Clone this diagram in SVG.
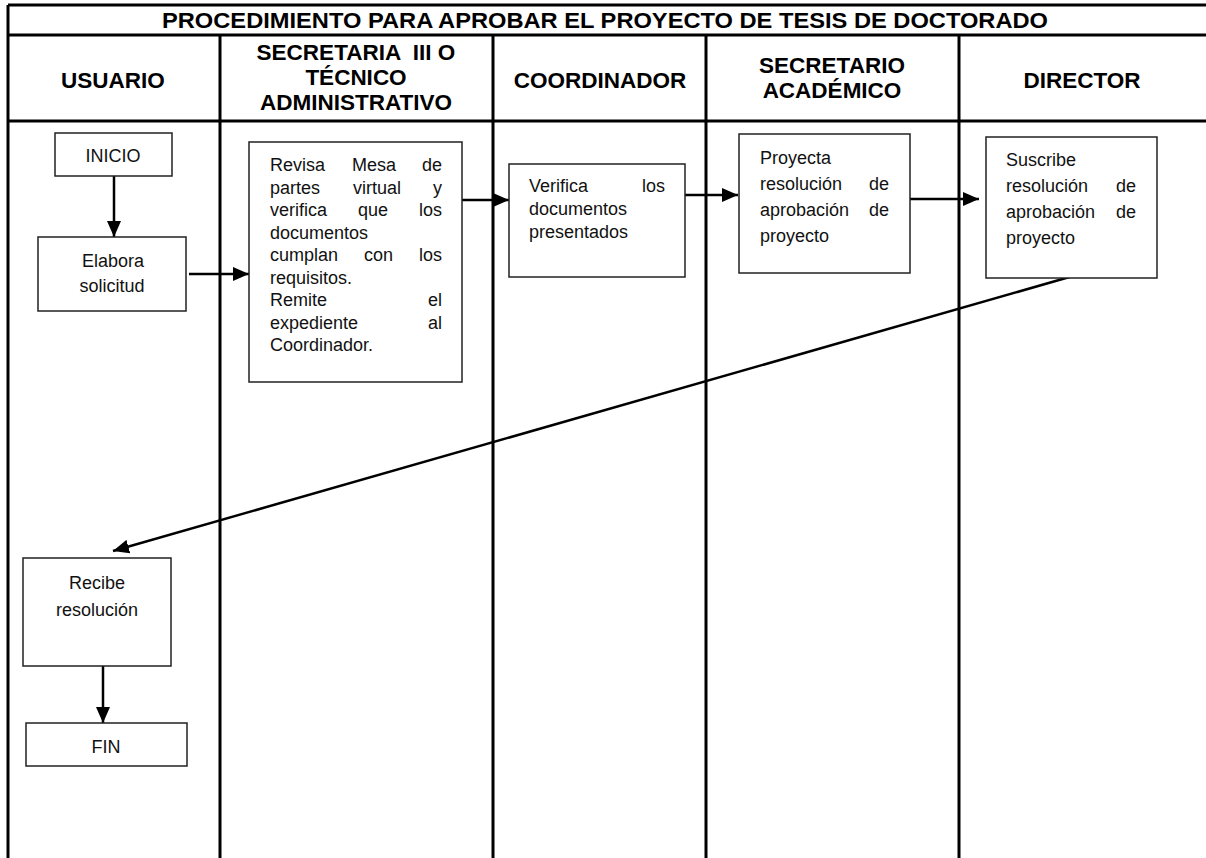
<svg xmlns="http://www.w3.org/2000/svg" width="1206" height="858" viewBox="0 0 1206 858">
  <style>
    .grid { stroke: #000; stroke-width: 3; fill: none; }
    .box { fill: #fff; stroke: #222; stroke-width: 1.5; }
    .hd { font-family: "Liberation Sans", Arial, sans-serif; font-weight: bold; font-size: 22.5px; fill: #000; text-anchor: middle; }
    .tt { font-family: "Liberation Sans", Arial, sans-serif; font-weight: bold; font-size: 22px; fill: #000; }
    .tx { font-family: "Liberation Sans", Arial, sans-serif; font-size: 18px; fill: #111; }
    .c { text-anchor: middle; }
    .e { text-anchor: end; }
    .arrow { stroke: #000; stroke-width: 2.5; fill: none; marker-end: url(#head); }
  </style>
  <defs>
    <marker id="head" markerUnits="userSpaceOnUse" markerWidth="16" markerHeight="14" refX="16" refY="7" orient="auto">
      <path d="M0,0 L16,7 L0,14 Z" fill="#000"/>
    </marker>
  </defs>
  <rect width="1206" height="858" fill="#fff"/>

  <!-- swimlane table -->
  <g id="table">
    <path class="grid" d="M8,5 H1210 M8,35 H1210 M8,121 H1210 M8,5 V860 M220,35 V860 M493,35 V860 M706,35 V860 M959,35 V860"/>
    <text class="tt" x="605" y="28" text-anchor="middle" textLength="886" lengthAdjust="spacingAndGlyphs">PROCEDIMIENTO PARA APROBAR EL PROYECTO DE TESIS DE DOCTORADO</text>
    <text class="hd" x="113" y="88">USUARIO</text>
    <text class="hd" x="356" y="60" xml:space="preserve">SECRETARIA  III O</text>
    <text class="hd" x="356" y="85">TÉCNICO</text>
    <text class="hd" x="356" y="110">ADMINISTRATIVO</text>
    <text class="hd" x="600" y="88">COORDINADOR</text>
    <text class="hd" x="832" y="73">SECRETARIO</text>
    <text class="hd" x="832" y="98">ACADÉMICO</text>
    <text class="hd" x="1082" y="88">DIRECTOR</text>
  </g>

  <!-- connectors -->
  <g id="connectors">
    <line class="arrow" x1="114" y1="176" x2="114" y2="237"/>
    <line class="arrow" x1="189" y1="274" x2="249" y2="274"/>
    <line class="arrow" x1="462" y1="200" x2="509" y2="200"/>
    <line class="arrow" x1="685" y1="195" x2="738" y2="195"/>
    <line class="arrow" x1="910" y1="199" x2="979" y2="199"/>
    <line class="arrow" x1="1073" y1="276" x2="113" y2="551"/>
    <line class="arrow" x1="103" y1="666" x2="103" y2="723"/>
  </g>

  <g id="inicio">
    <rect class="box" x="55" y="133" width="117" height="43"/>
    <text class="tx c" x="113" y="162">INICIO</text>
  </g>

  <g id="elabora">
    <rect class="box" x="38" y="237" width="148" height="74"/>
    <text class="tx c" x="113" y="267">Elabora</text>
    <text class="tx c" x="112" y="292">solicitud</text>
  </g>

  <g id="revisa">
    <rect class="box" x="249" y="142" width="213" height="240"/>
    <text class="tx" x="270" y="171">Revisa</text>
    <text class="tx" x="352" y="171">Mesa</text>
    <text class="tx e" x="442" y="171">de</text>
    <text class="tx" x="270" y="193.5">partes</text>
    <text class="tx" x="353" y="193.5">virtual</text>
    <text class="tx e" x="442" y="193.5">y</text>
    <text class="tx" x="270" y="216">verifica</text>
    <text class="tx" x="358" y="216">que</text>
    <text class="tx e" x="442" y="216">los</text>
    <text class="tx" x="270" y="238.5">documentos</text>
    <text class="tx" x="270" y="261">cumplan</text>
    <text class="tx" x="364" y="261">con</text>
    <text class="tx e" x="442" y="261">los</text>
    <text class="tx" x="270" y="283.5">requisitos.</text>
    <text class="tx" x="270" y="306">Remite</text>
    <text class="tx e" x="442" y="306">el</text>
    <text class="tx" x="270" y="328.5">expediente</text>
    <text class="tx e" x="442" y="328.5">al</text>
    <text class="tx" x="270" y="351">Coordinador.</text>
  </g>

  <g id="verifica">
    <rect class="box" x="509" y="164" width="176" height="113"/>
    <text class="tx" x="529" y="192">Verifica</text>
    <text class="tx e" x="665" y="192">los</text>
    <text class="tx" x="529" y="215">documentos</text>
    <text class="tx" x="529" y="238">presentados</text>
  </g>

  <g id="proyecta">
    <rect class="box" x="739" y="134" width="171" height="139"/>
    <text class="tx" x="760" y="164">Proyecta</text>
    <text class="tx" x="760" y="190">resolución</text>
    <text class="tx e" x="889" y="190">de</text>
    <text class="tx" x="760" y="216">aprobación</text>
    <text class="tx e" x="889" y="216">de</text>
    <text class="tx" x="760" y="242">proyecto</text>
  </g>

  <g id="suscribe">
    <rect class="box" x="986" y="137" width="171" height="141"/>
    <text class="tx" x="1006" y="166">Suscribe</text>
    <text class="tx" x="1006" y="192">resolución</text>
    <text class="tx e" x="1136" y="192">de</text>
    <text class="tx" x="1006" y="218">aprobación</text>
    <text class="tx e" x="1136" y="218">de</text>
    <text class="tx" x="1006" y="244">proyecto</text>
  </g>

  <g id="recibe">
    <rect class="box" x="23" y="558" width="148" height="108"/>
    <text class="tx c" x="97" y="589">Recibe</text>
    <text class="tx c" x="97" y="616">resolución</text>
  </g>

  <g id="fin">
    <rect class="box" x="26" y="723" width="161" height="43"/>
    <text class="tx c" x="106" y="753">FIN</text>
  </g>
</svg>
